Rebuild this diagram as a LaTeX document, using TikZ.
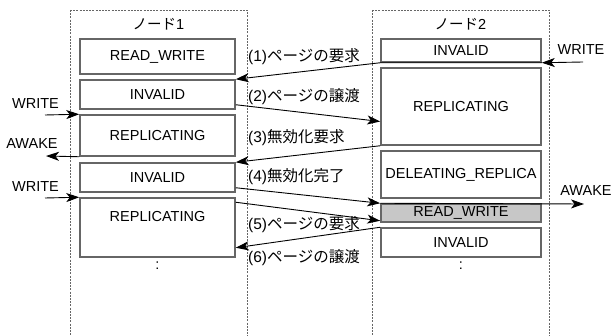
\documentclass[tikz,border=0pt]{standalone}
\usepackage{fontspec}
\setmainfont{Liberation Sans}
\newfontfamily\cjk{Noto Sans CJK JP}
\usetikzlibrary{arrows.meta}
\begin{document}
\begin{tikzpicture}[x=1pt,y=-1pt,
  every node/.style={font=\fontsize{14.5}{17}\selectfont, inner sep=0pt},
  grp/.style={draw=black!60, dash pattern=on 2pt off 1.2pt, line width=0.7pt},
  box/.style={draw=black!60, line width=1.5pt, fill=white},
  lbl/.style={anchor=west, font=\fontsize{15.5}{17}\selectfont},
  arr/.style={-{Stealth[length=13pt,width=9pt,inset=3.5pt]}, line width=0.9pt}]
\useasboundingbox (0,0) rectangle (613,336);
% groups
\draw[grp] (70,10) -- (70,340) (70,10) -- (247,10) -- (247,340);
\draw[grp] (372,10) -- (372,340) (372,10) -- (549,10) -- (549,340);
\node (t1) at (158.5,24) {\cjk ノード\rmfamily 1};
\node (t2) at (460.5,24) {\cjk ノード\rmfamily 2};
% node 1 boxes
\node[box, minimum width=155pt, minimum height=35pt] (a1) at (157.5,56.5) {READ\_WRITE};
\node[box, minimum width=155pt, minimum height=29pt] (a2) at (157.5,94.5) {INVALID};
\node[box, minimum width=155pt, minimum height=41pt] (a3) at (157.5,135.5) {REPLICATING};
\node[box, minimum width=155pt, minimum height=29pt] (a4) at (157.5,177.5) {INVALID};
\node[box, minimum width=155pt, minimum height=59pt] (a5) at (157.5,227.5) {};
\node (a5t) at (157.5,217) {REPLICATING};
\node (a6) at (157.5,266) {:};
% node 2 boxes
\node[box, minimum width=160pt, minimum height=23pt] (b1) at (461,50.5) {INVALID};
\node[box, minimum width=160pt, minimum height=77pt] (b2) at (461,106.5) {REPLICATING};
\node[box, minimum width=160pt, minimum height=47pt] (b3) at (461,174.5) {DELEATING\_REPLICA};
\node[box, minimum width=160pt, minimum height=18pt, fill=black!22] (b4) at (461,213) {READ\_WRITE};
\node[box, minimum width=160pt, minimum height=29pt] (b5) at (461,242.5) {INVALID};
\node (b6) at (461,266) {:};
% messages
\draw[arr] (b1.south east) -- (b1.south west) -- (a2.north east);
\node[lbl] (m1) at (248,57) {(1)\cjk ページの要求};
\draw[arr] ([yshift=5pt]a2.south east) -- ([yshift=-15pt]b2.west);
\node[lbl] (m2) at (248,97) {(2)\cjk ページの譲渡};
\draw[arr] (b2.south west) -- (a4.north east);
\node[lbl] (m3) at (248,138) {(3)\cjk 無効化要求};
\draw[arr] ([yshift=5pt]a4.south east) -- (b4.north west);
\node[lbl] (m4) at (248,177) {(4)\cjk 無効化完了};
\draw[arr] ([yshift=-5pt]a5.north east) -- ([yshift=2pt]b4.south west);
\node[lbl] (m5) at (248,225) {(5)\cjk ページの要求};
\draw[arr] (b5.north west) -- ([yshift=10pt]a5.south east);
\node[lbl] (m6) at (248,258) {(6)\cjk ページの譲渡};
% external events
\coordinate (w1) at (45,115);
\coordinate (w2) at (45,198);
\coordinate (aw1) at (46,156);
\coordinate (w3) at (583,62);
\coordinate (aw2) at (584,204);
\draw[arr] (w1) -- (a3.north west);
\node (w1t) at (35.5,104) {WRITE};
\draw[arr] (a3.south west) -- (aw1);
\node (aw1t) at (32,144) {AWAKE};
\draw[arr] (w2) -- (a5.north west);
\node (w2t) at (35.5,187) {WRITE};
\draw[arr] (w3) -- (b1.south east);
\node (w3t) at (581,50) {WRITE};
\draw[arr] (b4.north west) -- (aw2);
\node (aw2t) at (586,191) {AWAKE};
\end{tikzpicture}
\end{document}
